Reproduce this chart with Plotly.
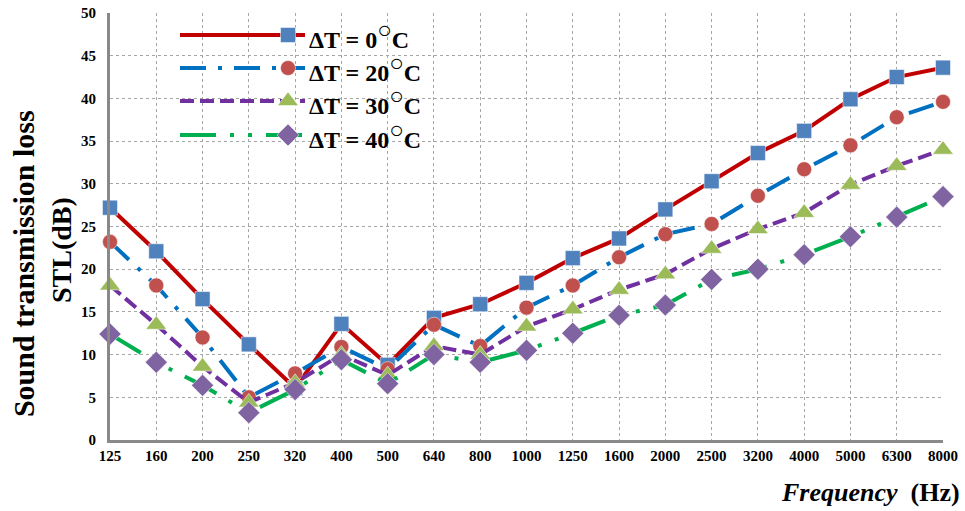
import plotly.graph_objects as go

freqs = ["125", "160", "200", "250", "320", "400", "500", "640", "800", "1000",
         "1250", "1600", "2000", "2500", "3200", "4000", "5000", "6300", "8000"]

stl_dt0 = [27.2, 22.1, 16.5, 11.2, 6.1, 13.6, 8.8, 14.3, 15.9, 18.4,
           21.3, 23.6, 27.0, 30.3, 33.6, 36.2, 39.9, 42.5, 43.6]
stl_dt20 = [23.2, 18.1, 12.0, 5.0, 7.8, 10.9, 8.3, 13.5, 11.0, 15.5,
            18.1, 21.4, 24.1, 25.3, 28.6, 31.7, 34.5, 37.8, 39.6]
stl_dt30 = [18.1, 13.5, 8.6, 4.4, 6.7, 10.0, 7.6, 11.0, 10.0, 13.3,
            15.3, 17.6, 19.4, 22.4, 24.7, 26.6, 29.9, 32.1, 34.0]
stl_dt40 = [12.4, 9.1, 6.4, 3.2, 5.9, 9.4, 6.6, 10.0, 9.1, 10.5,
            12.5, 14.6, 15.8, 18.8, 20.0, 21.7, 23.8, 26.1, 28.5]

series_names = ["ΔT = 0", "ΔT = 20", "ΔT = 30", "ΔT = 40"]
series_values = [stl_dt0, stl_dt20, stl_dt30, stl_dt40]

line_colors = ["#C00000", "#0070C0", "#7030A0", "#00B050"]
marker_colors = ["#4F81BD", "#C0504D", "#9BBB59", "#8064A2"]
marker_symbols = ["square", "circle", "triangle-up", "diamond"]
marker_sizes = [15, 15, 18, 17]
dashes = ["solid", "26px,12px,4px,12px", "14px,6px", "36px,14px,4px,14px,4px,14px"]
line_widths = [4, 4, 4, 4]

FONT = "Liberation Serif"

fig = go.Figure()

for name, vals, lc, mc, sym, ms, dsh, lw in zip(series_names, series_values, line_colors,
                                                marker_colors, marker_symbols, marker_sizes,
                                                dashes, line_widths):
    fig.add_trace(go.Scatter(
        x=freqs, y=vals, mode="lines+markers", name=name,
        line=dict(color=lc, width=lw, dash=dsh),
        marker=dict(color=mc, symbol=sym, size=ms, line=dict(color="rgba(255,255,255,0.5)", width=1)),
        cliponaxis=False, showlegend=False,
    ))

# custom legend drawn on an overlay axis measured in plot-area pixels
leg_y = [405, 372, 339, 305]
leg_x0, leg_x1, leg_mx = 70, 195, 178
for i, (name, lc, mc, sym, ms, dsh, lw) in enumerate(zip(series_names, line_colors, marker_colors,
                                                        marker_symbols, marker_sizes, dashes, line_widths)):
    fig.add_trace(go.Scatter(
        x=[leg_x0, leg_x1], y=[leg_y[i], leg_y[i]], mode="lines",
        line=dict(color=lc, width=lw, dash=dsh), xaxis="x2", yaxis="y2",
        showlegend=False, hoverinfo="skip", cliponaxis=False))
    fig.add_trace(go.Scatter(
        x=[leg_mx], y=[leg_y[i]], mode="markers",
        marker=dict(color=mc, symbol=sym, size=ms, line=dict(color="rgba(255,255,255,0.5)", width=1)),
        xaxis="x2", yaxis="y2", showlegend=False, hoverinfo="skip", cliponaxis=False))
    fig.add_annotation(
        x=leg_x1 + 2, y=leg_y[i], xref="x2", yref="y2", xanchor="left", yanchor="middle",
        text="<b>" + name + "<sup><span style='font-size:24px'>○</span></sup>C</b>", showarrow=False,
        font=dict(family=FONT, size=24, color="black"))

fig.add_annotation(x=-0.1044, y=0.412, xref="paper", yref="paper", textangle=-90,
                   text="<b>Sound transmission loss</b>", showarrow=False,
                   xanchor="center", yanchor="middle",
                   font=dict(family=FONT, size=30, color="black"))
fig.add_annotation(x=-0.0576, y=0.445, xref="paper", yref="paper", textangle=-90,
                   text="<b>STL(dB)</b>", showarrow=False,
                   xanchor="center", yanchor="middle",
                   font=dict(family=FONT, size=28, color="black"))
fig.add_annotation(x=1.0228, y=-0.124, xref="paper", yref="paper",
                   text="<b><i>Frequency</i>\u00a0\u00a0(Hz)</b>", showarrow=False,
                   xanchor="right", yanchor="middle",
                   font=dict(family=FONT, size=26, color="black"))

fig.update_layout(
    width=965, height=511,
    margin=dict(l=110, r=22, t=13, b=71, autoexpand=False),
    paper_bgcolor="white", plot_bgcolor="white",
    font=dict(family=FONT, color="black"),
    xaxis=dict(type="category", range=[0, 18], showline=True, linecolor="#898989", linewidth=3,
               showgrid=True, gridcolor="#A6A6A6", griddash="dot", gridwidth=1,
               ticks="", tickfont=dict(family=FONT, size=15, color="black"),
               tickprefix="<b>", ticksuffix="</b>", zeroline=False, automargin=False),
    yaxis=dict(range=[0, 50], dtick=5, showline=True, linecolor="#898989", linewidth=3,
               showgrid=True, gridcolor="#A6A6A6", griddash="dot", gridwidth=1,
               ticks="", ticklabelstandoff=8, tickfont=dict(family=FONT, size=15, color="black"),
               tickprefix="<b>", ticksuffix="</b>", zeroline=False, automargin=False),
    xaxis2=dict(range=[0, 833], overlaying="x", visible=False, fixedrange=True),
    yaxis2=dict(range=[0, 427], overlaying="y", visible=False, fixedrange=True),
)

fig.write_html("out.html")
